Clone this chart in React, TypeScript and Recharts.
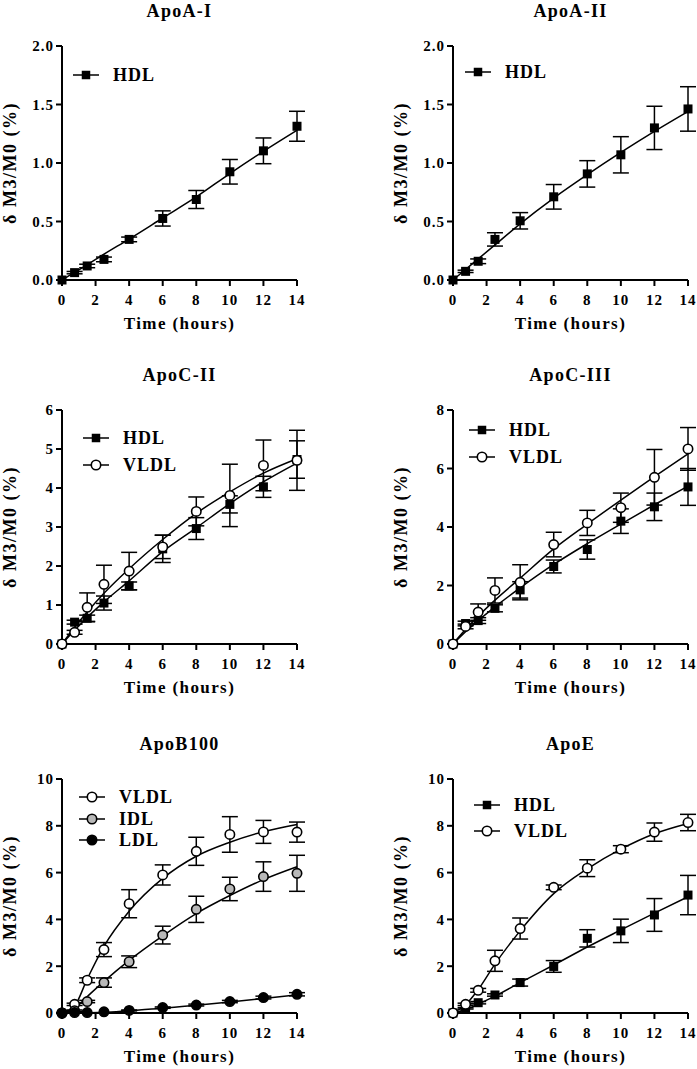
import { LineChart, Line, XAxis, YAxis, ErrorBar } from 'recharts';

const FONT = '"Liberation Serif", "Times New Roman", serif';

const times = [0, 0.75, 1.5, 2.5, 4, 6, 8, 10, 12, 14];
const xTicks = [0, 2, 4, 6, 8, 10, 12, 14];

// ApoA-I
const a1Hdl = [0, 0.063, 0.12, 0.176, 0.347, 0.526, 0.688, 0.925, 1.104, 1.314];
const a1HdlErr = [0, 0.01, 0.015, 0.02, 0.02, 0.065, 0.077, 0.105, 0.11, 0.128];
const a1HdlFit = [0, 0.065, 0.13, 0.22, 0.35, 0.53, 0.71, 0.91, 1.1, 1.28];

// ApoA-II
const a2Hdl = [0, 0.074, 0.16, 0.347, 0.506, 0.711, 0.907, 1.07, 1.3, 1.462];
const a2HdlErr = [0, 0.01, 0.02, 0.057, 0.07, 0.105, 0.113, 0.155, 0.185, 0.19];
const a2HdlFit = [0, 0.09, 0.18, 0.3, 0.48, 0.7, 0.9, 1.09, 1.27, 1.44];

// ApoC-II
const c2Hdl = [0, 0.56, 0.66, 1.05, 1.49, 2.44, 2.96, 3.58, 4.03, 4.73];
const c2HdlErr = [0, 0.05, 0.08, 0.18, 0.1, 0.35, 0.28, 0.22, 0.27, 0.48];
const c2HdlFit = [0, 0.35, 0.68, 1.08, 1.62, 2.37, 2.98, 3.6, 4.16, 4.64];
const c2Vldl = [0, 0.3, 0.94, 1.53, 1.87, 2.49, 3.4, 3.81, 4.58, 4.71];
const c2VldlErr = [0, 0.05, 0.37, 0.49, 0.48, 0.3, 0.37, 0.8, 0.65, 0.77];
const c2VldlFit = [0, 0.43, 0.82, 1.3, 1.93, 2.68, 3.35, 3.9, 4.38, 4.75];

// ApoC-III
const c3Hdl = [0, 0.7, 0.8, 1.22, 1.85, 2.65, 3.23, 4.2, 4.69, 5.37];
const c3HdlErr = [0, 0.08, 0.1, 0.12, 0.28, 0.22, 0.33, 0.42, 0.47, 0.63];
const c3HdlFit = [0, 0.42, 0.8, 1.27, 1.92, 2.72, 3.43, 4.1, 4.76, 5.4];
const c3Vldl = [0, 0.6, 1.09, 1.83, 2.11, 3.4, 4.14, 4.66, 5.7, 6.67];
const c3VldlErr = [0, 0.08, 0.28, 0.43, 0.6, 0.42, 0.43, 0.5, 0.95, 0.73];
const c3VldlFit = [0, 0.5, 0.95, 1.5, 2.25, 3.25, 4.1, 4.92, 5.72, 6.5];

// ApoB100
const bVldl = [0, 0.37, 1.4, 2.71, 4.67, 5.9, 6.91, 7.63, 7.74, 7.73];
const bVldlErr = [0, 0.05, 0.1, 0.3, 0.6, 0.43, 0.6, 0.76, 0.49, 0.43];
const bVldlFit = [0, 0.3, 1.45, 2.85, 4.35, 5.75, 6.7, 7.3, 7.75, 8.06];
const bIdl = [0, 0.1, 0.49, 1.3, 2.19, 3.33, 4.43, 5.3, 5.83, 5.97];
const bIdlErr = [0, 0.03, 0.05, 0.2, 0.25, 0.38, 0.56, 0.5, 0.63, 0.77];
const bIdlFit = [0, 0.2, 0.7, 1.35, 2.25, 3.3, 4.25, 5.02, 5.7, 6.25];
const bLdl = [0, 0.02, 0.02, 0.05, 0.11, 0.23, 0.34, 0.49, 0.66, 0.8];
const bLdlErr = [0, 0, 0, 0, 0.02, 0.03, 0.04, 0.05, 0.06, 0.07];
const bLdlFit = [0, 0, 0.01, 0.03, 0.1, 0.2, 0.33, 0.47, 0.62, 0.78];

// ApoE
const eHdl = [0, 0.2, 0.44, 0.77, 1.3, 1.99, 3.19, 3.51, 4.19, 5.04];
const eHdlErr = [0, 0.03, 0.05, 0.05, 0.15, 0.25, 0.37, 0.5, 0.7, 0.84];
const eHdlFit = [0, 0.15, 0.38, 0.72, 1.3, 2.05, 2.82, 3.55, 4.27, 4.97];
const eVldl = [0, 0.37, 0.97, 2.23, 3.61, 5.37, 6.19, 7.0, 7.73, 8.14];
const eVldlErr = [0, 0.05, 0.08, 0.45, 0.45, 0.1, 0.36, 0.15, 0.39, 0.35];
const eVldlFit = [0, 0.35, 1.0, 2.09, 3.51, 5.1, 6.16, 7.0, 7.66, 8.1];

type Series = {
  name: string;
  shape: 'square' | 'circle';
  fill: string;
  values: number[];
  errors: number[];
  fit: number[];
};

type PanelDef = {
  title: string;
  left: number;
  top: number;
  yMax: number;
  yTicks: number[];
  decimals: number;
  legend: { x: number; y: number; gap: number };
  series: Series[];
};

const hdl = (values: number[], errors: number[], fit: number[]): Series => ({
  name: 'HDL', shape: 'square', fill: '#000', values, errors, fit,
});
const circle = (name: string, fill: string, values: number[], errors: number[], fit: number[]): Series => ({
  name, shape: 'circle', fill, values, errors, fit,
});

const panels: PanelDef[] = [
  {
    title: 'ApoA-I', left: 0, top: 0, yMax: 2, yTicks: [0, 0.5, 1, 1.5, 2], decimals: 1,
    legend: { x: 73, y: 75, gap: 27 },
    series: [hdl(a1Hdl, a1HdlErr, a1HdlFit)],
  },
  {
    title: 'ApoA-II', left: 391, top: 0, yMax: 2, yTicks: [0, 0.5, 1, 1.5, 2], decimals: 1,
    legend: { x: 74, y: 72, gap: 27 },
    series: [hdl(a2Hdl, a2HdlErr, a2HdlFit)],
  },
  {
    title: 'ApoC-II', left: 0, top: 364, yMax: 6, yTicks: [0, 1, 2, 3, 4, 5, 6], decimals: 0,
    legend: { x: 83, y: 74, gap: 27 },
    series: [hdl(c2Hdl, c2HdlErr, c2HdlFit), circle('VLDL', '#fff', c2Vldl, c2VldlErr, c2VldlFit)],
  },
  {
    title: 'ApoC-III', left: 391, top: 364, yMax: 8, yTicks: [0, 2, 4, 6, 8], decimals: 0,
    legend: { x: 78, y: 66, gap: 27 },
    series: [hdl(c3Hdl, c3HdlErr, c3HdlFit), circle('VLDL', '#fff', c3Vldl, c3VldlErr, c3VldlFit)],
  },
  {
    title: 'ApoB100', left: 0, top: 733, yMax: 10, yTicks: [0, 2, 4, 6, 8, 10], decimals: 0,
    legend: { x: 79, y: 64, gap: 21.5 },
    series: [
      circle('VLDL', '#fff', bVldl, bVldlErr, bVldlFit),
      circle('IDL', '#b8b8b8', bIdl, bIdlErr, bIdlFit),
      circle('LDL', '#000', bLdl, bLdlErr, bLdlFit),
    ],
  },
  {
    title: 'ApoE', left: 391, top: 733, yMax: 10, yTicks: [0, 2, 4, 6, 8, 10], decimals: 0,
    legend: { x: 83, y: 72, gap: 26 },
    series: [hdl(eHdl, eHdlErr, eHdlFit), circle('VLDL', '#fff', eVldl, eVldlErr, eVldlFit)],
  },
];

const tickStyle = { fontSize: 15, fontFamily: FONT, fontWeight: 'bold', fill: '#000', letterSpacing: 1 };
const axisStyle = { stroke: '#000', strokeWidth: 2 };

function Marker({ cx, cy, shape, fill, size = 9 }: any) {
  if (cx == null || cy == null) return null;
  if (shape === 'square') {
    return <rect x={cx - size / 2} y={cy - size / 2} width={size} height={size} fill="#000" />;
  }
  return <circle cx={cx} cy={cy} r={size / 2 + 0.2} fill={fill} stroke="#000" strokeWidth={1.6} />;
}

function Panel({ p }: { p: PanelDef }) {
  const data = times.map((t, i) => {
    const row: Record<string, number> = { t };
    p.series.forEach((s, k) => {
      row[`v${k}`] = s.values[i];
      row[`e${k}`] = s.errors[i];
      row[`f${k}`] = s.fit[i];
    });
    return row;
  });

  return (
    <div style={{ position: 'absolute', left: p.left, top: p.top, width: 348, height: 345, fontFamily: FONT, fontWeight: 'bold', color: '#000' }}>
      <div style={{ position: 'absolute', left: 62, top: 0, width: 235, textAlign: 'center', fontSize: 18, lineHeight: '22px', letterSpacing: 1.3 }}>
        {p.title}
      </div>
      <div style={{ position: 'absolute', left: 0, top: 0 }}>
        <LineChart width={348} height={310} data={data} margin={{ top: 46, right: 51, left: 0, bottom: 0 }}>
          <XAxis
            type="number"
            dataKey="t"
            domain={[0, 14]}
            ticks={xTicks}
            interval={0}
            height={30}
            tick={tickStyle}
            tickSize={6}
            tickMargin={8}
            axisLine={axisStyle}
            tickLine={axisStyle}
          />
          <YAxis
            type="number"
            domain={[0, p.yMax]}
            ticks={p.yTicks}
            interval={0}
            width={62}
            tick={tickStyle}
            tickSize={6}
            tickMargin={2}
            tickFormatter={(v: number) => v.toFixed(p.decimals)}
            axisLine={axisStyle}
            tickLine={axisStyle}
          />
          {p.series.map((s, k) => (
            <Line
              key={`f${k}`}
              dataKey={`f${k}`}
              type="monotone"
              stroke="#000"
              strokeWidth={1.5}
              dot={false}
              activeDot={false}
              isAnimationActive={false}
            />
          ))}
          {p.series.map((s, k) => (
            <Line
              key={`v${k}`}
              dataKey={`v${k}`}
              stroke="none"
              activeDot={false}
              isAnimationActive={false}
              dot={(props: any) => (
                <Marker key={`m${k}-${props.index}`} cx={props.cx} cy={props.cy} shape={s.shape} fill={s.fill} />
              )}
            >
              <ErrorBar dataKey={`e${k}`} width={8} stroke="#000" strokeWidth={1.5} direction="y" />
            </Line>
          ))}
        </LineChart>
      </div>
      <div
        style={{
          position: 'absolute', left: 10, top: 163, whiteSpace: 'nowrap', fontSize: 18, letterSpacing: 1.5,
          transform: 'translate(-50%, -50%) rotate(-90deg)',
        }}
      >
        δ M3/M0 (%)
      </div>
      <div style={{ position: 'absolute', left: 62, top: 313, width: 235, textAlign: 'center', fontSize: 17, lineHeight: '22px', letterSpacing: 1.4 }}>
        Time (hours)
      </div>
      {p.series.map((s, k) => (
        <div key={s.name} style={{ position: 'absolute', left: p.legend.x, top: p.legend.y + k * p.legend.gap - 11, height: 22, display: 'flex', alignItems: 'center' }}>
          <svg width={26} height={14} style={{ display: 'block' }}>
            <line x1={0} y1={7} x2={26} y2={7} stroke="#000" strokeWidth={1.5} />
            <Marker cx={13} cy={7} shape={s.shape} fill={s.fill} size={s.shape === 'square' ? 8.5 : 9} />
          </svg>
          <span style={{ marginLeft: 14, fontSize: 18, lineHeight: '22px', letterSpacing: 1 }}>{s.name}</span>
        </div>
      ))}
    </div>
  );
}

export default function App() {
  return (
    <div style={{ position: 'absolute', left: 0, top: 0, width: 697, height: 1069, background: '#fff' }}>
      {panels.map((p) => (
        <Panel key={p.title} p={p} />
      ))}
    </div>
  );
}
